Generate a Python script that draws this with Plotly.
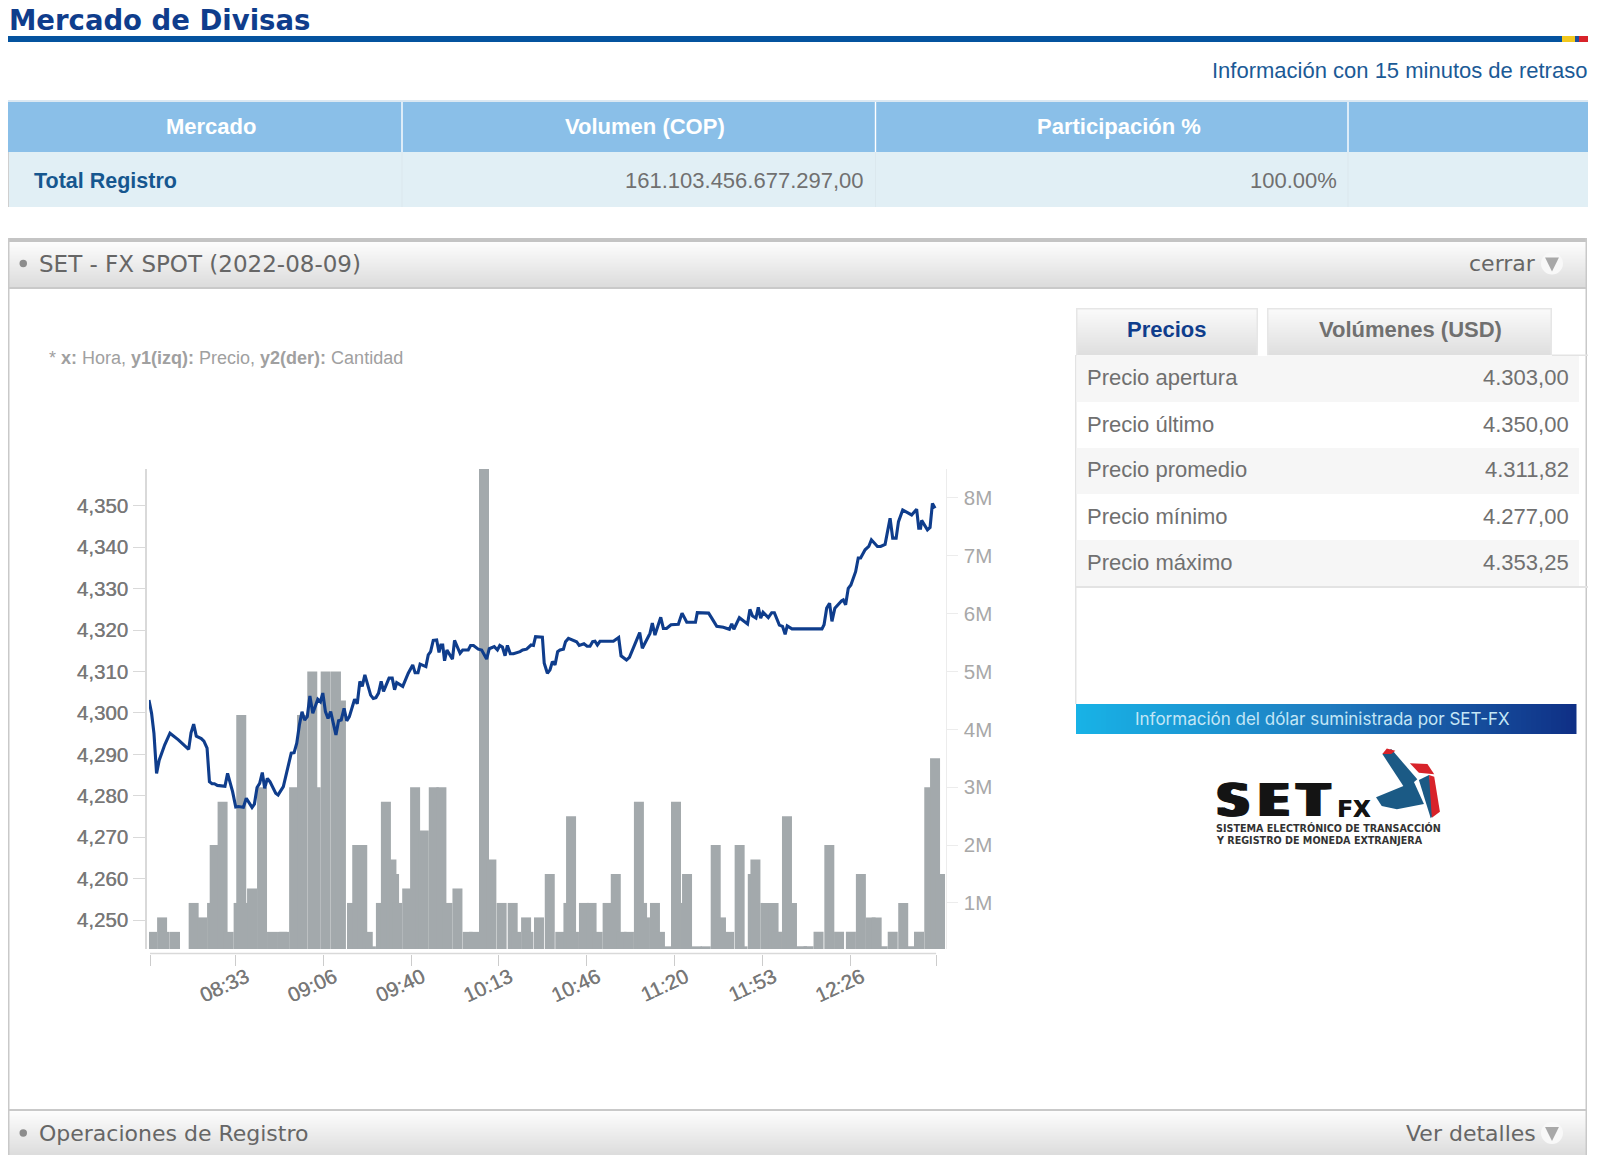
"""
Mercado de Divisas - SET FX spot panel (2022-08-09)

Price line over traded volume bars, with the page furniture around it.
"""
import plotly.graph_objects as go

# minutes after 08:00 for the price line, and the price there
price_minutes = [
    -0.4, 0.6, 1.5, 2.5, 3.5, 5.6, 7.6, 10.8, 14.7, 15.6, 16.6, 17.6, 19.5, 20.5, 21.7, 22.6, 23.6, 24.5, 25.6, 28.5,
    29.5, 31.4, 32.6, 33.6, 35.5, 36.6, 38.8, 39.7, 40.7, 41.7, 42.7, 43.6, 44.6, 45.6, 47.8, 48.7, 50.7, 52.7, 53.7, 54.8,
    55.8, 56.8, 57.8, 58.8, 59.8, 60.8, 61.9, 63.8, 64.8, 65.7, 66.7, 67.7, 68.7, 70.7, 71.7, 72.7, 73.8, 74.8, 75.8, 77.8,
    78.8, 79.8, 80.7, 81.7, 83.9, 84.9, 85.9, 86.9, 87.9, 88.8, 90.9, 92.1, 93.0, 93.8, 96.1, 98.2, 99.9, 100.8, 101.9, 102.7,
    104.9, 105.8, 106.7, 107.7, 109.0, 109.9, 110.6, 111.3, 112.0, 112.9, 115.0, 115.8, 117.9, 118.9, 121.0, 121.9, 123.0, 124.8, 126.1, 128.0,
    129.0, 130.9, 132.1, 133.0, 134.0, 135.0, 135.9, 137.0, 138.2, 140.7, 141.7, 143.2, 144.9, 145.8, 146.6, 149.2, 149.9, 151.1, 152.1, 153.0,
    154.0, 155.0, 155.9, 157.2, 158.0, 159.1, 162.2, 163.2, 165.0, 166.2, 167.3, 168.3, 169.2, 170.1, 171.1, 176.2, 178.2, 179.1, 181.2, 182.3,
    183.4, 186.2, 187.2, 190.1, 191.0, 192.0, 194.2, 195.2, 196.4, 198.1, 200.9, 202.3, 204.1, 207.4, 208.1, 212.4, 213.6, 215.5, 218.0, 220.3,
    221.2, 222.0, 224.1, 227.2, 228.1, 229.1, 230.4, 231.3, 232.2, 233.1, 235.1, 236.4, 237.4, 239.3, 240.5, 241.5, 242.3, 244.1, 255.5, 256.3,
    257.3, 258.4, 259.3, 260.4, 263.0, 263.6, 264.5, 265.5, 266.5, 268.3, 269.3, 270.2, 271.9, 273.3, 274.3, 276.6, 277.8, 279.5, 281.4, 282.4,
    283.7, 284.6, 286.2, 289.6, 291.5, 292.3, 293.0, 293.4, 295.6, 296.6, 297.5, 298.5,
]
price_values = [
    4303.1, 4299.9, 4295.1, 4285.4, 4288.6, 4292.3, 4295.1, 4293.5, 4291.2, 4295.2, 4297.3, 4294.4, 4293.8, 4293.2, 4291.5, 4283.4, 4282.9, 4282.9, 4282.5, 4282.3,
    4285.4, 4281.0, 4277.3, 4277.4, 4277.2, 4279.4, 4277.2, 4278.0, 4282.0, 4283.0, 4285.6, 4281.8, 4284.2, 4283.4, 4280.6, 4280.2, 4282.2, 4288.2, 4290.3, 4290.4,
    4292.7, 4297.1, 4300.3, 4298.3, 4299.1, 4304.1, 4299.9, 4303.3, 4302.7, 4304.8, 4300.3, 4298.7, 4300.3, 4294.7, 4298.1, 4298.3, 4301.1, 4298.1, 4299.1, 4303.3,
    4302.2, 4307.6, 4306.4, 4309.2, 4304.3, 4303.5, 4303.7, 4304.8, 4307.6, 4305.2, 4308.4, 4308.4, 4305.6, 4307.3, 4306.4, 4309.6, 4311.6, 4309.7, 4309.7, 4311.8,
    4311.2, 4314.0, 4314.8, 4317.5, 4317.6, 4314.6, 4316.4, 4316.4, 4312.6, 4315.2, 4313.0, 4317.5, 4314.4, 4315.2, 4315.2, 4316.3, 4316.3, 4315.4, 4315.2, 4313.0,
    4315.5, 4316.0, 4315.2, 4316.3, 4315.9, 4313.8, 4316.3, 4314.3, 4314.3, 4314.8, 4315.2, 4315.4, 4316.4, 4316.3, 4318.4, 4318.3, 4312.0, 4309.6, 4310.4, 4312.4,
    4311.6, 4314.8, 4315.2, 4315.4, 4317.2, 4318.0, 4317.2, 4316.3, 4316.7, 4316.1, 4316.1, 4317.2, 4317.3, 4316.4, 4317.3, 4317.3, 4318.2, 4313.8, 4312.8, 4313.4,
    4315.2, 4319.4, 4315.6, 4319.2, 4321.7, 4318.8, 4323.1, 4320.4, 4320.4, 4321.3, 4321.4, 4324.1, 4321.9, 4321.9, 4324.2, 4324.1, 4322.9, 4320.9, 4320.7, 4320.2,
    4321.5, 4320.2, 4323.0, 4321.5, 4325.0, 4323.4, 4322.9, 4325.5, 4322.9, 4324.3, 4323.0, 4324.2, 4324.2, 4321.2, 4320.9, 4319.0, 4321.0, 4320.3, 4320.3, 4321.3,
    4325.3, 4326.5, 4322.1, 4325.3, 4327.1, 4327.3, 4326.1, 4330.1, 4330.9, 4334.1, 4337.4, 4337.4, 4339.4, 4340.2, 4341.8, 4340.2, 4340.2, 4340.7, 4347.0, 4342.2,
    4342.2, 4346.2, 4349.0, 4347.8, 4349.2, 4344.6, 4344.6, 4346.5, 4344.2, 4344.8, 4350.6, 4349.4,
]

# minutes after 08:00 for the volume bars, and the volume in millions USD
volume_minutes = [
    0.8, 4.6, 5.6, 9.5, 16.6, 19.8, 23.6, 24.6, 27.6, 29.9, 33.7, 34.7, 36.8, 38.8, 42.6, 46.4, 50.2, 51.0, 54.8, 57.8,
    61.7, 63.0, 66.8, 70.7, 72.6, 76.8, 78.8, 80.7, 82.8, 84.0, 87.8, 89.7, 91.8, 92.8, 94.0, 97.8, 100.8, 103.0, 104.1, 107.9,
    110.8, 113.1, 116.9, 120.8, 123.2, 127.0, 129.8, 133.7, 137.9, 139.2, 143.0, 143.9, 147.9, 152.0, 156.0, 159.1, 160.1, 161.2, 165.0, 167.9,
    170.2, 174.0, 177.1, 179.3, 182.1, 185.9, 187.1, 188.2, 192.0, 193.9, 196.2, 200.0, 203.8, 204.2, 207.9, 211.3, 215.1, 217.1, 220.2, 224.2,
    225.3, 229.2, 230.2, 234.0, 237.1, 238.4, 242.2, 244.1, 247.9, 250.4, 254.2, 258.3, 262.0, 266.5, 270.3, 274.0, 276.3, 278.6, 282.4, 286.4,
    288.6, 292.4, 296.3, 298.5, 300.4,
]
volume_values = [
    0.5, 0.75, 0.5, 0.5, 1, 0.75, 1, 2, 2.75, 0.5, 1, 4.25, 1, 1.25, 3, 0.5, 0.5, 0.5, 3, 4.25,
    5, 3, 5, 5, 4.5, 1, 2, 2, 0.5, 0.25, 1, 2.75, 1.75, 1.5, 1, 1.25, 3, 1.75, 2.25, 3,
    3, 1, 1.25, 0.5, 0.5, 8.5, 1.75, 1, 1, 0.5, 0.75, 0.5, 0.75, 1.5, 0.5, 1, 2.5, 0.5, 1, 1,
    0.5, 1, 1.5, 0.5, 0.5, 2.75, 1, 0.75, 1, 0.5, 0.25, 2.75, 1, 1.5, 0.25, 0.25, 2, 0.75, 0.5, 2,
    0.25, 1.5, 1.75, 1, 1, 0.5, 2.5, 1, 0.25, 0.25, 0.5, 2, 0.5, 0.5, 1.5, 0.75, 0.75, 0.25, 0.5, 1,
    0.25, 0.5, 3, 3.5, 1.5,
]

time_ticks = [0, 32.4, 65.8, 99.3, 132.6, 166.0, 199.5, 232.9, 266.4, 298.9]
time_labels = ["", "08:33", "09:06", "09:40", "10:13", "10:46", "11:20", "11:53", "12:26", ""]
price_ticks = [4250, 4260, 4270, 4280, 4290, 4300, 4310, 4320, 4330, 4340, 4350]
volume_ticks = [1, 2, 3, 4, 5, 6, 7, 8]
volume_labels = ["1M", "2M", "3M", "4M", "5M", "6M", "7M", "8M"]

table_headers = ["Mercado", "Volumen (COP)", "Participación %"]
table_row = ["Total Registro", "161.103.456.677.297,00", "100.00%"]
stat_names = ["Precio apertura", "Precio último", "Precio promedio", "Precio mínimo", "Precio máximo"]
stat_values = ["4.303,00", "4.350,00", "4.311,82", "4.277,00", "4.353,25"]

# the page adds an 8px body margin, everything below is in page pixels
OFFSET = 8
FIG_W = 1581
FIG_H = 1147
SANS = "Liberation Sans"
VERDANA = "DejaVu Sans"
BLUE = "#0f3d8c"
GREY_TEXT = "#707070"
TICK_BLUR = "0.4px 0 0 #8a8a8a"
LOGO_BLACK = "#141414"


def px(x):
    return (x - OFFSET) / FIG_W


def py(y):
    return 1 - (y - OFFSET) / FIG_H


def mix(a, b, t):
    return "rgb(%d,%d,%d)" % tuple(round(a[i] + (b[i] - a[i]) * t) for i in range(3))


fig = go.Figure()

fig.add_trace(go.Bar(
    x=volume_minutes,
    y=volume_values,
    width=3.8,
    marker=dict(color="#a3a9ac", line=dict(width=0)),
    yaxis="y",
    hoverinfo="skip",
))
fig.add_trace(go.Scatter(
    x=price_minutes,
    y=price_values,
    mode="lines",
    line=dict(color=BLUE, width=3.1),
    yaxis="y2",
))


def rect(x0, y0, x1, y1, color):
    fig.add_shape(type="rect", xref="paper", yref="paper", layer="below",
                  x0=px(x0), x1=px(x1), y0=py(y0), y1=py(y1),
                  fillcolor=color, line=dict(width=0))


def vgradient(x0, y0, x1, y1, top, bottom):
    for i in range(y0, y1):
        rect(x0, i, x1, i + 1.3, mix(top, bottom, (i - y0) / (y1 - y0)))


def text(x, y, s, size=22, color=GREY_TEXT, anchor="left", family=SANS, shadow=None):
    fig.add_annotation(xref="paper", yref="paper", x=px(x), y=py(y), text=s, showarrow=False,
                       xanchor=anchor, yanchor="middle", borderpad=0,
                       font=dict(family=family, size=size, color=color, shadow=shadow or "none"))


def poly(points, color):
    path = "M " + " L ".join("%.4f,%.4f" % (px(1037 + a * 0.338), py(680 + b / 3)) for a, b in points) + " Z"
    fig.add_shape(type="path", xref="paper", yref="paper", path=path, fillcolor=color, line=dict(width=0))


# page title and rule
text(8, 19.5, "<b>Mercado de Divisas</b>", size=27.5, color=BLUE, family=VERDANA)
rect(8, 36, 1562, 42, "#04539f")
rect(1562, 36, 1575, 42, "#f2c81e")
rect(1575, 36, 1579, 42, "#1d4f9c")
rect(1579, 36, 1588, 42, "#d8232a")
text(1588, 70.5, "Información con 15 minutos de retraso", color="#1b5a96", anchor="right")

# market table
rect(8, 100, 1588, 102, "#dbe8f2")
rect(8, 102, 1588, 152, "#8abfe8")
rect(8, 152, 1588, 207, "#e1eff5")
rect(8, 152, 9, 207, "#cfcfcf")
for x in [402, 875.5, 1348]:
    rect(x - 0.7, 102, x + 0.7, 152, "#ffffff")
    rect(x - 0.5, 152, x + 0.5, 207, "#dbe8ee")
for x, s in zip([210.5, 645, 1118.5], table_headers):
    text(x, 126.5, "<b>%s</b>" % s, color="#ffffff", anchor="center")
text(33, 180.5, "<b>%s</b>" % table_row[0], size=21.5, color="#16578f")
text(864.5, 180.5, table_row[1], anchor="right")
text(1337.5, 180.5, table_row[2], anchor="right")

# SET FX panel frame and its two header bands
vgradient(9, 242, 1586, 287, (253, 253, 253), (219, 219, 219))
vgradient(9, 1111, 1586, 1156, (253, 253, 253), (219, 219, 219))
rect(8, 238, 1587, 242, "#c4c4c4")
rect(8, 287, 1587, 289, "#c9c9c9")
rect(8, 1109, 1587, 1111, "#c9c9c9")
rect(8, 1156, 1587, 1158, "#c9c9c9")
rect(8, 238, 9.5, 1158, "#c9c9c9")
rect(1585.5, 238, 1587, 1158, "#c9c9c9")
for y, left, left_size, right in [
    (263.5, "SET - FX SPOT (2022-08-09)", 23, "cerrar"),
    (1133, "Operaciones de Registro", 22, "Ver detalles"),
]:
    fig.add_shape(type="circle", xref="paper", yref="paper", layer="below",
                  x0=px(19.5), x1=px(27), y0=py(y - 3.7), y1=py(y + 3.7),
                  fillcolor="#8c8c8c", line=dict(width=0))
    text(38, y, left, size=left_size, color="#666666", family=VERDANA)
    text(1537, y, right, size=22, color="#666666", anchor="right", family=VERDANA)
    fig.add_shape(type="circle", xref="paper", yref="paper", layer="below",
                  x0=px(1541), x1=px(1563), y0=py(y - 11), y1=py(y + 11),
                  fillcolor="#f8f8f8", line=dict(width=0))
    fig.add_shape(type="path", xref="paper", yref="paper",
                  path="M %.4f,%.4f L %.4f,%.4f L %.4f,%.4f Z" % (
                      px(1545), py(y - 6), px(1559), py(y - 6), px(1552), py(y + 8)),
                  fillcolor="#a8a8a8", line=dict(width=0))

text(48, 358, "* <b>x:</b> Hora, <b>y1(izq):</b> Precio, <b>y2(der):</b> Cantidad", size=18, color="#a0a0a0")

# right hand tabs and prices
vgradient(1076, 309, 1258, 355, (250, 250, 250), (222, 222, 222))
vgradient(1267, 309, 1552, 355, (250, 250, 250), (222, 222, 222))
for x0, x1 in [(1076, 1258), (1267, 1552)]:
    rect(x0, 308, x1, 309.5, "#e6e6e6")
    rect(x0, 308, x0 + 1.5, 355, "#e6e6e6")
    rect(x1 - 1.5, 308, x1, 355, "#e6e6e6")
rect(1552, 354.5, 1588, 356, "#e3e3e3")
text(1167, 330, "<b>Precios</b>", color=BLUE, anchor="center")
text(1410, 330, "<b>Volúmenes (USD)</b>", anchor="center")
rect(1075, 355, 1076.5, 704, "#e3e3e3")
for i, (name, value) in enumerate(zip(stat_names, stat_values)):
    top = 356 + i * 46
    if i % 2 == 0:
        rect(1076.5, top, 1579, top + 46, "#f6f6f6")
    text(1086, top + 22, name)
    text(1570, top + 22, value, anchor="right")
rect(1076, 586, 1588, 588, "#e3e3e3")

# banner and logo
for i in range(0, 498, 5):
    t = i / 498
    left = (24, 178, 230)
    mid = (31, 124, 192)
    right = (15, 47, 133)
    color = mix(left, mid, t * 2) if t < 0.5 else mix(mid, right, t * 2 - 1)
    rect(1076 + i, 704, 1076 + i + 5.5, 734, color)
text(1322.5, 719, "Información del dólar suministrada por SET-FX", size=17, color="#c4e6f6", anchor="center", family="Inter")

poly([(1022, 222), (1048, 207), (1125, 298), (1090, 328)], "#1b5a85")
poly([(1022, 222), (1035, 205), (1060, 212), (1048, 222)], "#d8232a")
poly([(1103, 250), (1155, 252), (1175, 283), (1130, 278)], "#d8232a")
poly([(1003, 352), (1115, 305), (1145, 372), (1065, 388), (1020, 378)], "#1b5a85")
poly([(1130, 300), (1160, 285), (1180, 395), (1165, 415)], "#1b5a85")
poly([(1160, 285), (1175, 290), (1192, 395), (1168, 413)], "#d8232a")
text(1216, 801, "<b>S\u2009E\u2009T</b>", size=45, color=LOGO_BLACK, family=VERDANA,
     shadow="1.5px 0 0 {0}, -1.5px 0 0 {0}, 3px 0 0 {0}, -3px 0 0 {0}".format(LOGO_BLACK))
text(1336, 809, "<b>FX</b>", size=23, color=LOGO_BLACK, family=VERDANA, shadow="0.5px 0 0 " + LOGO_BLACK)
text(1215, 827.5, "<b>SISTEMA ELECTRÓNICO DE TRANSACCIÓN</b>", size=9.6, color="#333333", family=VERDANA)
text(1215, 840.5, "<b>Y REGISTRO DE MONEDA EXTRANJERA</b>", size=9.6, color="#333333", family=VERDANA)

# x axis line stops at the last tick, shorter than the plot area
fig.add_shape(type="line", xref="x", yref="paper", x0=0, x1=298.9, y0=py(953.5), y1=py(953.5),
              line=dict(color="#d9d9d9", width=1.6))

fig.update_layout(
    width=FIG_W,
    height=FIG_H,
    margin=dict(l=0, r=0, t=0, b=0),
    paper_bgcolor="#ffffff",
    plot_bgcolor="rgba(0,0,0,0)",
    showlegend=False,
    barmode="overlay",
    xaxis=dict(
        domain=[px(149), px(945.7)],
        range=[-0.38, 302.55],
        anchor="free",
        position=py(953.5),
        tickmode="array",
        tickvals=time_ticks,
        ticktext=time_labels,
        tickangle=-25,
        ticks="outside",
        ticklen=11,
        tickwidth=1.3,
        tickcolor="#cccccc",
        ticklabelshift=11,
        ticklabelstandoff=-8,
        tickfont=dict(family=SANS, size=20.5, color="#777777", shadow=TICK_BLUR),
        showline=False,
        showgrid=False,
        zeroline=False,
    ),
    yaxis=dict(
        domain=[py(949), py(469)],
        range=[0.204, 8.5],
        side="right",
        tickmode="array",
        tickvals=volume_ticks,
        ticktext=volume_labels,
        ticks="outside",
        ticklen=11,
        tickcolor="#ececec",
        showline=True,
        linecolor="#ececec",
        linewidth=1,
        showgrid=False,
        zeroline=False,
        ticklabelstandoff=2,
        tickfont=dict(family=SANS, size=20.5, color="#a8a8a8"),
    ),
    yaxis2=dict(
        domain=[py(949), py(469)],
        range=[4243.0, 4358.9],
        overlaying="y",
        anchor="free",
        position=px(146),
        side="left",
        tickmode="array",
        tickvals=price_ticks,
        tickformat=",d",
        ticks="outside",
        ticklen=12,
        tickcolor="#d9d9d9",
        showline=True,
        linecolor="#d9d9d9",
        linewidth=1.6,
        showgrid=False,
        zeroline=False,
        ticklabelstandoff=1,
        tickfont=dict(family=SANS, size=20.5, color="#777777", shadow=TICK_BLUR),
    ),
)

fig.write_html("out.html")
